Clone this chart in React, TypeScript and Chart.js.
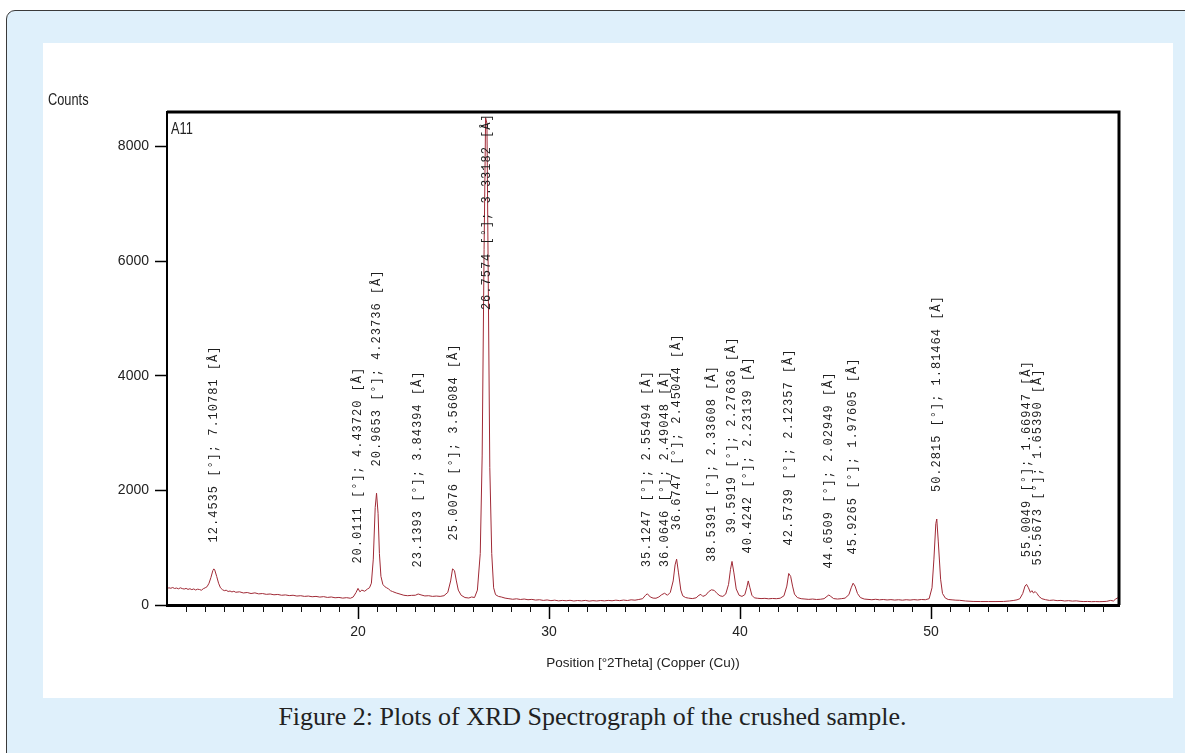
import React, { useEffect, useRef } from 'react';
import { Chart, registerables } from 'chart.js';

Chart.register(...registerables);

// ---- Data ----
// measured diffractogram: [position (°2θ), counts]
const scanPoints: [number, number][] = [
  [10.0, 285], [10.1, 300], [10.2, 292], [10.3, 305], [10.4, 288], [10.5, 296], [10.6, 282], [10.7, 300],
  [10.8, 286], [10.9, 278], [11.0, 290], [11.1, 272], [11.2, 284], [11.3, 268], [11.4, 280], [11.5, 262],
  [11.6, 276], [11.7, 270], [11.8, 258], [11.9, 284], [12.0, 300], [12.1, 320], [12.2, 380], [12.3, 480],
  [12.4, 600], [12.45, 630], [12.5, 610], [12.6, 500], [12.7, 380], [12.8, 300], [12.9, 268], [13.0, 250],
  [13.1, 258], [13.2, 236], [13.3, 244], [13.4, 228], [13.5, 240], [13.6, 222], [13.8, 230], [14.0, 210],
  [14.2, 218], [14.4, 200], [14.6, 212], [14.8, 194], [15.0, 200], [15.2, 186], [15.4, 192], [15.6, 178],
  [15.8, 184], [16.0, 170], [16.2, 176], [16.4, 164], [16.6, 170], [16.8, 156], [17.0, 162], [17.2, 150],
  [17.4, 156], [17.6, 144], [17.8, 150], [18.0, 138], [18.2, 146], [18.4, 132], [18.6, 140], [18.8, 126],
  [19.0, 132], [19.2, 120], [19.4, 128], [19.6, 118], [19.75, 140], [19.9, 220], [20.0, 290], [20.1, 230],
  [20.2, 260], [20.35, 240], [20.5, 280], [20.6, 300], [20.7, 380], [20.8, 800], [20.9, 1700], [20.97, 1950],
  [21.05, 1600], [21.12, 900], [21.2, 500], [21.3, 360], [21.4, 320], [21.5, 300], [21.6, 280], [21.7, 250],
  [21.8, 236], [22.0, 210], [22.2, 190], [22.4, 170], [22.6, 162], [22.8, 168], [23.0, 170], [23.15, 192],
  [23.3, 176], [23.5, 158], [23.7, 162], [23.9, 150], [24.1, 156], [24.3, 150], [24.5, 162], [24.7, 220],
  [24.85, 420], [24.95, 630], [25.05, 600], [25.15, 420], [25.25, 260], [25.4, 170], [25.6, 130], [25.8, 122],
  [25.95, 140], [26.1, 130], [26.25, 260], [26.4, 900], [26.5, 2600], [26.6, 6200], [26.68, 8500], [26.75, 8400],
  [26.83, 5200], [26.9, 2400], [27.0, 900], [27.1, 300], [27.2, 180], [27.35, 150], [27.5, 140], [27.7, 120],
  [27.9, 110], [28.1, 100], [28.3, 108], [28.5, 96], [28.7, 104], [28.9, 92], [29.1, 98], [29.3, 86],
  [29.5, 92], [29.7, 80], [29.9, 88], [30.1, 76], [30.3, 84], [30.5, 72], [30.7, 80], [30.9, 74],
  [31.1, 82], [31.3, 70], [31.5, 78], [31.7, 72], [31.9, 80], [32.1, 68], [32.3, 76], [32.5, 70],
  [32.7, 78], [32.9, 72], [33.1, 80], [33.3, 74], [33.5, 84], [33.7, 76], [33.9, 86], [34.1, 78],
  [34.3, 90], [34.5, 84], [34.7, 96], [34.9, 110], [35.05, 170], [35.15, 195], [35.3, 140], [35.45, 120],
  [35.6, 118], [35.75, 140], [35.9, 180], [36.05, 205], [36.2, 170], [36.35, 220], [36.5, 420], [36.6, 700],
  [36.68, 800], [36.78, 560], [36.9, 260], [37.0, 160], [37.15, 130], [37.3, 120], [37.5, 112], [37.7, 125],
  [37.85, 170], [37.95, 185], [38.05, 150], [38.2, 170], [38.35, 230], [38.5, 265], [38.65, 255], [38.8, 200],
  [38.95, 160], [39.1, 150], [39.25, 190], [39.4, 360], [39.5, 620], [39.58, 760], [39.68, 560], [39.8, 280],
  [39.95, 170], [40.1, 150], [40.25, 180], [40.35, 300], [40.43, 420], [40.52, 300], [40.62, 170], [40.75, 125],
  [40.9, 118], [41.1, 112], [41.3, 116], [41.5, 108], [41.7, 114], [41.9, 110], [42.1, 118], [42.3, 160],
  [42.45, 330], [42.55, 550], [42.65, 500], [42.75, 330], [42.85, 190], [43.0, 130], [43.2, 110], [43.4, 104],
  [43.6, 98], [43.8, 104], [44.0, 96], [44.2, 100], [44.4, 110], [44.55, 150], [44.65, 175], [44.75, 150],
  [44.9, 112], [45.1, 104], [45.3, 110], [45.5, 120], [45.7, 180], [45.82, 300], [45.92, 380], [46.02, 330],
  [46.15, 200], [46.3, 130], [46.5, 104], [46.7, 98], [46.9, 92], [47.1, 100], [47.3, 90], [47.5, 96],
  [47.7, 88], [47.9, 94], [48.1, 86], [48.3, 92], [48.5, 84], [48.7, 92], [48.9, 86], [49.1, 94],
  [49.3, 88], [49.5, 96], [49.7, 92], [49.9, 110], [50.05, 300], [50.15, 800], [50.25, 1420], [50.3, 1500],
  [50.38, 1100], [50.5, 450], [50.6, 200], [50.75, 120], [50.9, 96], [51.1, 90], [51.3, 84], [51.5, 82],
  [51.8, 70], [52.2, 62], [52.6, 60], [53.0, 60], [53.4, 60], [53.8, 62], [54.1, 70], [54.3, 78],
  [54.5, 90], [54.65, 110], [54.8, 200], [54.92, 330], [55.0, 360], [55.1, 300], [55.2, 220], [55.28, 250],
  [55.36, 210], [55.45, 235], [55.55, 200], [55.65, 150], [55.8, 110], [56.0, 92], [56.2, 80], [56.4, 86],
  [56.6, 76], [56.8, 80], [57.0, 70], [57.2, 76], [57.4, 68], [57.6, 72], [57.8, 64], [58.0, 60],
  [58.2, 62], [58.4, 58], [58.6, 60], [58.8, 58], [59.0, 60], [59.2, 64], [59.4, 80], [59.55, 70],
  [59.65, 100], [59.75, 120], [59.84, 140],
];

// identified peaks
const peakPositions = [
  '12.4535', '20.0111', '20.9653', '23.1393', '25.0076', '26.7574', '35.1247', '36.0646', '36.6747',
  '38.5391', '39.5919', '40.4242', '42.5739', '44.6509', '45.9265', '50.2815', '55.0049', '55.5673',
];
const peakDSpacings = [
  '7.10781', '4.43720', '4.23736', '3.84394', '3.56084', '3.33182', '2.55494', '2.49048', '2.45044',
  '2.33608', '2.27636', '2.23139', '2.12357', '2.02949', '1.97605', '1.81464', '1.66947', '1.65390',
];
// counts level at which each peak label starts
const peakLabelCounts = [
  1092, 722, 2417, 655, 1127, 5144, 660, 660, 1301,
  748, 1249, 900, 1039, 638, 882, 1970, 835, 690,
];

const yTickValues = [0, 2000, 4000, 6000, 8000];
const xMajorStep = 10;
const xRange = [10.0, 59.84];
const yRange = [0, 8600];

const SANS = "'Liberation Sans', 'Noto Sans', sans-serif";

const decorPlugin = {
  id: 'xrdDecor',
  afterDatasetsDraw(chart: any) {
    const { ctx, scales } = chart;
    const xs = scales.x;
    const ys = scales.y;
    ctx.save();
    ctx.fillStyle = '#1e1e1e';
    ctx.font = "12px 'Liberation Mono', 'DejaVu Sans Mono', monospace";
    try { (ctx as any).letterSpacing = '1px'; } catch (e) {}
    ctx.textAlign = 'left';
    ctx.textBaseline = 'middle';
    peakPositions.forEach((p, i) => {
      const px = xs.getPixelForValue(parseFloat(p));
      const py = ys.getPixelForValue(peakLabelCounts[i]);
      ctx.save();
      ctx.translate(px, py);
      ctx.rotate(-Math.PI / 2);
      ctx.fillText(`${p} [°]; ${peakDSpacings[i]} [Å]`, 0, 0);
      ctx.restore();
    });
    try { (ctx as any).letterSpacing = '0px'; } catch (e) {}
    ctx.restore();
  },
  afterDraw(chart: any) {
    const { ctx, chartArea, scales } = chart;
    const xs = scales.x;
    ctx.save();
    ctx.strokeStyle = '#000';
    ctx.lineWidth = 3;
    ctx.beginPath();
    ctx.moveTo(chartArea.left, chartArea.top);
    ctx.lineTo(chartArea.right, chartArea.top);
    ctx.lineTo(chartArea.right, chartArea.bottom);
    ctx.stroke();
    ctx.lineWidth = 2;
    ctx.beginPath();
    ctx.moveTo(chartArea.left, chartArea.top - 1);
    ctx.lineTo(chartArea.left, chartArea.bottom);
    ctx.stroke();
    ctx.lineWidth = 1;
    ctx.strokeStyle = '#111';
    xs.ticks.forEach((t: any) => {
      if (t.value % xMajorStep !== 0) {
        const px = Math.round(xs.getPixelForValue(t.value)) + 0.5;
        ctx.beginPath();
        ctx.moveTo(px, chartArea.bottom);
        ctx.lineTo(px, chartArea.bottom + 7);
        ctx.stroke();
      }
    });
    // condensed texts
    ctx.fillStyle = '#222';
    ctx.font = `16px ${SANS}`;
    ctx.textAlign = 'left';
    ctx.textBaseline = 'alphabetic';
    ctx.save();
    ctx.translate(5, 62);
    ctx.scale(0.8, 1);
    ctx.fillText('Counts', 0, 0);
    ctx.restore();
    ctx.save();
    ctx.translate(chartArea.left + 4, chartArea.top + 22);
    ctx.scale(0.8, 1);
    ctx.fillText('A11', 0, 0);
    ctx.restore();
    ctx.restore();
  },
};

export default function App() {
  const ref = useRef<HTMLCanvasElement>(null);
  useEffect(() => {
    if (!ref.current) return;
    const chart = new Chart(ref.current, {
      type: 'line',
      data: {
        datasets: [
          {
            label: 'A11',
            data: scanPoints.map(([x, y]) => ({ x, y })),
            borderColor: '#a02a36',
            borderWidth: 1,
            pointRadius: 0,
            tension: 0,
            fill: false,
          },
        ],
      },
      options: {
        animation: false,
        responsive: false,
        devicePixelRatio: 1,
        layout: { padding: { top: 69, right: 54, left: 0, bottom: 0 } },
        plugins: { legend: { display: false }, tooltip: { enabled: false }, title: { display: false } },
        scales: {
          x: {
            type: 'linear',
            min: xRange[0],
            max: xRange[1],
            afterBuildTicks: (scale: any) => {
              const ticks = [];
              for (let v = Math.ceil(xRange[0] + 0.5); v <= Math.floor(xRange[1]); v++) ticks.push({ value: v });
              scale.ticks = ticks;
            },
            afterFit: (scale: any) => { scale.height = 93; },
            ticks: {
              autoSkip: false,
              maxRotation: 0,
              padding: 5,
              color: '#222',
              font: { family: SANS, size: 14 },
              callback: (v: any) => (Number(v) % xMajorStep === 0 ? String(v) : ''),
            },
            grid: {
              display: true,
              drawOnChartArea: false,
              drawTicks: true,
              tickLength: 14,
              tickWidth: 1.5,
              tickColor: (c: any) => (c.tick && c.tick.value % xMajorStep === 0 ? '#000' : 'rgba(0,0,0,0)'),
            },
            border: { display: true, color: '#000', width: 3 },
            title: {
              display: true,
              text: 'Position [°2Theta] (Copper (Cu))',
              color: '#222',
              font: { family: SANS, size: 13.5 },
              padding: { top: 4, bottom: 27 },
            },
          },
          y: {
            type: 'linear',
            min: yRange[0],
            max: yRange[1],
            afterBuildTicks: (scale: any) => {
              scale.ticks = yTickValues.map((v) => ({ value: v }));
            },
            afterFit: (scale: any) => { scale.width = 124; },
            ticks: {
              padding: 6,
              color: '#222',
              font: { family: SANS, size: 14 },
              callback: (v: any) => String(v),
            },
            grid: {
              display: true,
              drawOnChartArea: false,
              drawTicks: true,
              tickLength: 12,
              tickWidth: 1.5,
              tickColor: '#000',
            },
            border: { display: true, color: '#000', width: 2 },
          },
        },
      },
      plugins: [decorPlugin],
    });
    return () => chart.destroy();
  }, []);

  return (
    <div style={{ position: 'absolute', left: 0, top: 0, width: 1185, height: 753, overflow: 'hidden', background: '#fff' }}>
      <div
        style={{
          position: 'absolute', left: 6, top: 10, width: 1200, height: 760,
          background: '#dff0fb', border: '1px solid #3a3a3a', borderRadius: 9, boxSizing: 'border-box',
        }}
      />
      <div style={{ position: 'absolute', left: 43, top: 43, width: 1130, height: 655, background: '#fff' }}>
        <canvas ref={ref} width={1130} height={655} style={{ display: 'block', width: 1130, height: 655 }} />
      </div>
      <div
        style={{
          position: 'absolute', left: 0, width: 1185, top: 702, textAlign: 'center',
          fontFamily: "'Liberation Serif', 'DejaVu Serif', serif", fontSize: 26, color: '#222', lineHeight: '30px',
        }}
      >
        Figure 2: Plots of XRD Spectrograph of the crushed sample.
      </div>
    </div>
  );
}
